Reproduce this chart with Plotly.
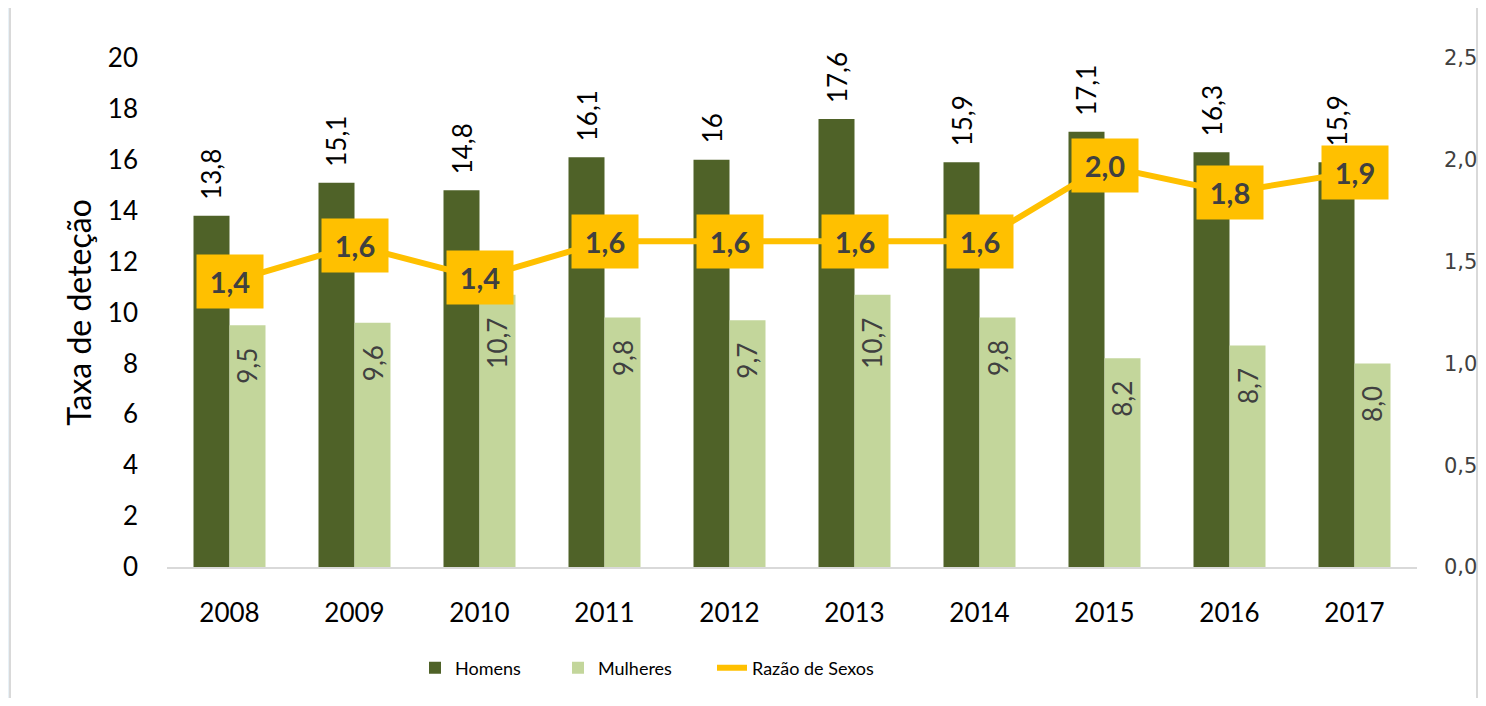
import plotly.graph_objects as go

# ---- data ----
anos = ["2008", "2009", "2010", "2011", "2012", "2013", "2014", "2015", "2016", "2017"]
homens = [13.8, 15.1, 14.8, 16.1, 16.0, 17.6, 15.9, 17.1, 16.3, 15.9]
mulheres = [9.5, 9.6, 10.7, 9.8, 9.7, 10.7, 9.8, 8.2, 8.7, 8.0]
razao = [1.40, 1.58, 1.42, 1.60, 1.60, 1.60, 1.60, 1.97, 1.84, 1.94]
homens_lbl = ["13,8", "15,1", "14,8", "16,1", "16", "17,6", "15,9", "17,1", "16,3", "15,9"]
mulheres_lbl = ["9,5", "9,6", "10,7", "9,8", "9,7", "10,7", "9,8", "8,2", "8,7", "8,0"]
y_ticks = list(range(0, 21, 2))
y2_ticks = [0, 0.5, 1.0, 1.5, 2.0, 2.5]

C_H = "#4F6228"
C_M = "#C3D69B"
C_R = "#FFC000"
FONT = "Lato"

OFF = 8  # page body margin
W, H = 1486 - 2 * OFF, 706 - 2 * OFF
ML, MT = 167 - OFF, 58 - OFF
MR = W - (1417 - OFF)
MB = H - (567 - OFF)
PW, PH = W - ML - MR, H - MT - MB


def px_x(x):  # page pixel -> paper
    return (x - OFF - ML) / PW


def px_y(y):
    return (H - MB - (y - OFF)) / PH


fig = go.Figure()
fig.add_trace(go.Bar(x=anos, y=homens, name="Homens", legend="legend",
                     marker=dict(color=C_H, line=dict(width=0))))
fig.add_trace(go.Bar(x=anos, y=mulheres, name="Mulheres", legend="legend2",
                     marker=dict(color=C_M, line=dict(width=0))))
fig.add_trace(go.Scatter(x=anos, y=razao, name="Razão de Sexos", mode="lines", legend="legend3",
                         line=dict(color=C_R, width=6), yaxis="y2"))

annotations = []
for i, (v, t) in enumerate(zip(homens, homens_lbl)):
    annotations.append(dict(x=i, y=v, xref="x", yref="y", text=t, showarrow=False,
                            textangle=-90, xanchor="center", yanchor="bottom",
                            xshift=-18, yshift=14,
                            font=dict(family=FONT, size=26, color="#000000")))
for i, (v, t) in enumerate(zip(mulheres, mulheres_lbl)):
    annotations.append(dict(x=i, y=v, xref="x", yref="y", text=t, showarrow=False,
                            textangle=-90, xanchor="center", yanchor="top",
                            xshift=18, yshift=-21,
                            font=dict(family=FONT, size=26, color="#404040")))
for i, v in enumerate(razao):
    annotations.append(dict(x=i, y=v, xref="x", yref="y2", text=f"<b>{v:.1f}</b>".replace(".", ","),
                            showarrow=False, bgcolor=C_R, width=62, height=49, borderpad=2,
                            xanchor="center", yanchor="middle", align="center",
                            font=dict(family=FONT, size=29, color="#404040")))

leg_common = dict(orientation="h", xanchor="left", yanchor="middle", y=px_y(668),
                  font=dict(family=FONT, size=18, color="#000000"), bgcolor="rgba(0,0,0,0)")

fig.update_layout(
    width=W, height=H, autosize=False,
    margin=dict(l=ML, r=MR, t=MT, b=MB, pad=0, autoexpand=False),
    paper_bgcolor="#E8F1F7",
    plot_bgcolor="rgba(0,0,0,0)",
    separators=",.",
    barmode="group", bargap=0.424, bargroupgap=0,
    font=dict(family=FONT, size=26, color="#000000"),
    showlegend=True,
    legend=dict(x=px_x(415), **leg_common),
    legend2=dict(x=px_x(558), **leg_common),
    legend3=dict(x=px_x(712), **leg_common),
    xaxis=dict(type="category", range=[-0.5, len(anos) - 0.5], showgrid=False, showline=True,
               linecolor="#D9D9D9", linewidth=2, automargin=False,
               ticks="", ticklabelstandoff=22, tickfont=dict(family=FONT, size=26, color="#000000")),
    yaxis=dict(range=[0, 20], tickvals=y_ticks, showgrid=False, showline=False, zeroline=False,
               automargin=False,
               ticks="", ticklabelstandoff=28, tickfont=dict(family=FONT, size=26, color="#000000"),
               title=dict(text="Taxa de deteção", standoff=6,
                          font=dict(family=FONT, size=32, color="#000000"))),
    yaxis2=dict(range=[0, 2.5], tickvals=y2_ticks, tickformat=".1f", overlaying="y", side="right",
                showgrid=False, showline=False, zeroline=False, ticks="", ticklabelstandoff=26,
                automargin=False,
                tickfont=dict(family="DejaVu Sans", size=21, color="#404040")),
    annotations=annotations,
    shapes=[dict(type="rect", xref="paper", yref="paper", layer="below",
                 x0=px_x(10), x1=px_x(1477), y0=px_y(730), y1=px_y(7),
                 fillcolor="#FFFFFF", line=dict(color="#D9D9D9", width=2))],
)

fig.write_html("out.html")
